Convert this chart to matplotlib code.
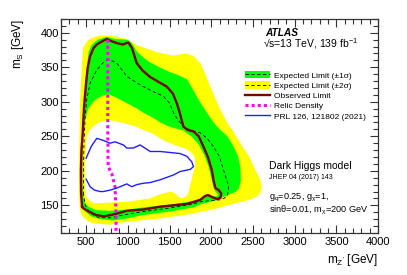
import numpy as np
import matplotlib
matplotlib.use("Agg")
import matplotlib.pyplot as plt
from matplotlib.patches import Patch
from matplotlib.lines import Line2D
from matplotlib.ticker import MultipleLocator

plt.rcParams["font.family"] = ["Liberation Sans", "DejaVu Sans"]
plt.rcParams["mathtext.fontset"] = "custom"
plt.rcParams["mathtext.rm"] = "Liberation Sans"
plt.rcParams["mathtext.it"] = "Liberation Sans:italic"

# --- contours (mZ' [GeV], mS [GeV]) ---
# expected +2 sigma (outer edge of yellow)
yel_out_x = [464, 520, 600, 700, 780, 880, 988, 1108, 1230, 1348, 1450, 1548, 1640, 1708, 1790, 1868,
             1930, 1988, 2050, 2108, 2190, 2270, 2360, 2447, 2527, 2587, 2607, 2590, 2540, 2427, 2227,
             2050, 1788, 1388, 988, 788, 588, 520, 450, 425, 415, 415, 420, 428, 440, 448]
yel_out_y = [378, 389, 394, 396, 396, 394, 391, 382, 377, 372, 369, 367, 369, 370, 366, 356,
             340, 322, 305, 289, 270, 256, 238, 222, 202, 187, 177, 168, 162, 157, 151,
             145, 138, 131, 126, 122, 124, 127, 135, 145, 165, 200, 250, 303, 330, 351]
# expected +1 sigma (outer edge of green)
grn_out_x = [530, 570, 640, 748, 850, 988, 1050, 1108, 1200, 1268, 1400, 1508, 1600, 1708, 1790, 1868,
             1950, 2028, 2110, 2188, 2260, 2320, 2350, 2355, 2330, 2287, 2200, 2147, 2050, 1867, 1788,
             1500, 1188, 988, 828, 668, 560, 500, 460, 445, 438, 436, 440, 452, 466, 488, 510]
grn_out_y = [372, 383, 390, 394, 391, 390, 385, 373, 363, 357, 349, 343, 339, 333, 316, 299,
             284, 270, 259, 251, 237, 222, 205, 185, 174, 169, 165, 162, 157, 151, 147,
             141, 136, 131, 128, 130, 134, 140, 148, 160, 180, 210, 235, 258, 290, 325, 350]
# expected -1 sigma (inner edge of green)
grn_in_x = [470, 458, 456, 462, 490, 527, 600, 700, 768, 880, 988, 1100, 1188, 1300, 1388, 1480, 1548,
            1620, 1668, 1760, 1850, 1920, 1970, 2000, 2025, 2050, 2080, 2070, 2020, 1960, 1900, 1780,
            1500, 1188, 990, 788, 620, 530, 490]
grn_in_y = [160, 180, 210, 245, 275, 290, 302, 309, 311, 305, 298, 291, 284, 277, 270, 265, 262,
            260, 258, 250, 238, 222, 205, 190, 177, 170, 166, 163, 163, 164, 160, 156,
            151, 147, 144, 142, 143, 148, 153]
# expected -2 sigma (inner edge of yellow)
yel_in_x = [490, 486, 490, 508, 560, 650, 768, 880, 988, 1100, 1188, 1300, 1388, 1470, 1548, 1620,
            1668, 1720, 1768, 1800, 1808, 1795, 1770, 1745, 1727, 1700, 1650, 1600, 1560, 1508, 1450,
            1388, 1268, 1100, 988, 800, 650, 588, 530, 500]
yel_in_y = [170, 190, 216, 250, 262, 270, 274, 271, 268, 264, 259, 254, 247, 242, 238, 235,
            233, 230, 226, 220, 212, 202, 190, 178, 168, 163, 160, 163, 168, 170, 168,
            166, 160, 157, 155, 154, 153, 153, 158, 163]
# expected limit (dashed)
exp_x = [470, 468, 475, 490, 508, 548, 628, 700, 748, 800, 868, 988, 1100, 1188, 1300, 1428, 1500,
         1548, 1600, 1668, 1750, 1868, 1950, 2028, 2100, 2148, 2190, 2208, 2200, 2188, 2150, 2108,
         2000, 1868, 1788, 1500, 1188, 988, 788, 650, 588, 530, 490, 470]
exp_y = [165, 200, 240, 280, 303, 327, 346, 356, 360, 360, 356, 337, 328, 322, 315, 308, 298,
         284, 274, 264, 259, 255, 247, 235, 220, 201, 185, 177, 168, 163, 160, 158,
         157, 155, 152, 146, 141, 137, 132, 132, 136, 142, 150, 165]
# observed limit
obs_x = [452, 440, 438, 445, 460, 476, 500, 520, 548, 590, 628, 700, 748, 800, 868, 940, 1007, 1050,
         1107, 1180, 1267, 1380, 1467, 1540, 1587, 1620, 1667, 1720, 1787, 1850, 1907, 1960, 2007,
         2030, 2050, 2090, 2120, 2110, 2070, 2010, 1960, 1920, 1870, 1790, 1708, 1550, 1388, 1188,
         988, 868, 800, 708, 620, 548, 500, 465, 452]
obs_y = [148, 168, 200, 230, 255, 293, 327, 350, 366, 378, 383, 388, 391, 388, 385, 383, 386, 378,
         356, 345, 336, 328, 322, 312, 298, 285, 264, 259, 257, 250, 235, 220, 201,
         185, 175, 172, 167, 161, 159, 162, 165, 163, 158, 155, 152, 150, 148, 144,
         142, 138, 136, 134, 136, 140, 143, 146, 148]
# relic density
relic_x = [760, 760, 765, 808, 847, 859, 859]
relic_y = [390, 260, 206, 196, 177, 140, 110]
# PRL 126, 121802 (2021)
prl_x = [500, 560, 628, 707, 787, 847, 947, 988, 1067, 1147, 1268, 1388, 1548, 1627, 1707, 1767,
         1787, 1747, 1627, 1548, 1388, 1268, 1188, 1108, 1048, 988, 908, 868, 787, 708, 668, 600,
         548, 500]
prl_y = [218, 235, 247, 244, 240, 242, 237.5, 233, 233, 237.5, 228, 228, 226, 225, 221, 213,
         206, 202, 199, 194, 187, 183, 182, 180, 177, 181, 177, 175, 172, 170, 170, 172,
         177, 188]

YELLOW = "#ffff00"
GREEN = "#00ff00"
DASH = (0, (4, 3))

fig = plt.figure(figsize=(4.07, 2.75), dpi=100)
ax = fig.add_axes([0.150, 0.153, 0.779, 0.778])

# bands, drawn outer to inner
ax.fill(yel_out_x, yel_out_y, color=YELLOW, lw=0)
ax.fill(grn_out_x, grn_out_y, color=GREEN, lw=0)
ax.fill(grn_in_x, grn_in_y, color=YELLOW, lw=0)
ax.fill(yel_in_x, yel_in_y, color="white", lw=0)
ax.plot(exp_x, exp_y, color="black", ls=DASH, lw=0.6)
ax.plot(obs_x, obs_y, color="#7a0000", lw=1.7)
ax.plot(relic_x, relic_y, color="#ff00ff", ls=(0, (1, 1)), lw=2.2)
ax.plot(prl_x, prl_y, color="#1f1fff", lw=1.0)

ax.set_xlim(200, 4000)
ax.set_ylim(110, 420)
ax.xaxis.set_major_locator(MultipleLocator(500))
ax.xaxis.set_minor_locator(MultipleLocator(100))
ax.yaxis.set_major_locator(MultipleLocator(50))
ax.yaxis.set_minor_locator(MultipleLocator(10))
ax.tick_params(which="both", direction="in", top=True, right=True, color="#333333", width=0.8)
ax.tick_params(which="major", length=6)
ax.tick_params(which="minor", length=3.5)
ax.tick_params(axis="x", labelsize=8, pad=3)
ax.tick_params(axis="y", labelsize=8, pad=1.5)
for s in ax.spines.values():
    s.set_color("#333333")
    s.set_linewidth(0.9)

fig.text(0.929, 0.055, r"m$_{\mathrm{Z'}}$ [GeV]", ha="right", va="center", fontsize=8.5)
fig.text(0.045, 0.93, r"m$_{\mathrm{S}}$ [GeV]", ha="center", va="top", rotation=90, fontsize=8.5)

ax.text(0.643, 0.935, "ATLAS", transform=ax.transAxes, fontsize=7.3, fontweight="bold",
        style="italic", va="center")
ax.text(0.637, 0.883, r"√s=13 TeV, 139 fb$^{-1}$", transform=ax.transAxes, fontsize=7.5, va="center")

handles = [
    (Patch(facecolor=GREEN, lw=0), Line2D([], [], color="black", ls=DASH, lw=0.6)),
    (Patch(facecolor=YELLOW, lw=0), Line2D([], [], color="black", ls=DASH, lw=0.6)),
    Line2D([], [], color="#7a0000", lw=1.7),
    Line2D([], [], color="#ff00ff", ls=(0, (1, 1)), lw=2.2),
    Line2D([], [], color="#1f1fff", lw=1.0),
]
labels = ["Expected Limit (±1σ)", "Expected Limit (±2σ)", "Observed Limit", "Relic Density",
          "PRL 126, 121802 (2021)"]
ax.legend(handles, labels, loc="upper left", bbox_to_anchor=(0.58, 0.757), frameon=False,
          fontsize=6, handlelength=3.0, handleheight=1.0, handletextpad=0.5,
          labelspacing=0.2, borderpad=0, borderaxespad=0)

ax.text(0.656, 0.313, "Dark Higgs model", transform=ax.transAxes, fontsize=7.5, va="center")
ax.text(0.656, 0.257, "JHEP 04 (2017) 143", transform=ax.transAxes, fontsize=5, va="center")
ax.text(0.656, 0.164, r"g$_{\mathrm{q}}$=0.25, g$_{\mathrm{χ}}$=1,", transform=ax.transAxes,
        fontsize=6.6, va="center")
ax.text(0.656, 0.107, r"sinθ=0.01, m$_{\mathrm{χ}}$=200 GeV", transform=ax.transAxes,
        fontsize=6.6, va="center")

fig.savefig("out.png", dpi=100)
